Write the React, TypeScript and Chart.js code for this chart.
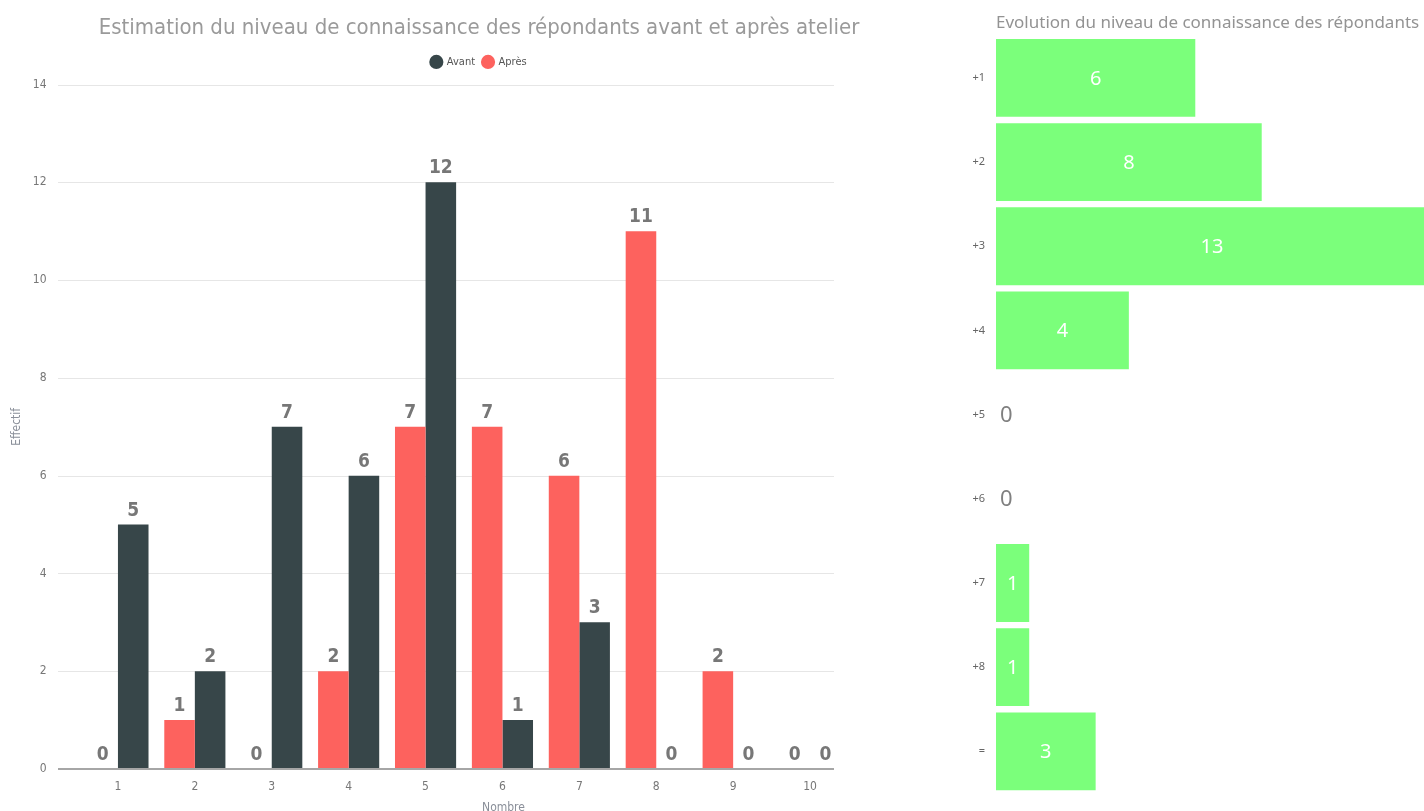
import React, { useEffect, useRef } from "react";
import { Chart, registerables } from "chart.js";

Chart.register(...registerables);

// ---- Left chart data ----
const niveaux = ["1", "2", "3", "4", "5", "6", "7", "8", "9", "10"];
const apres = [0, 1, 0, 2, 7, 7, 6, 11, 2, 0];
const avant = [5, 2, 7, 6, 12, 1, 3, 0, 0, 0];
const yMax = 14;
const yStep = 2;

// ---- Right chart data ----
const evolutionLabels = ["+1", "+2", "+3", "+4", "+5", "+6", "+7", "+8", "="];
const evolutionValues = [6, 8, 13, 4, 0, 0, 1, 1, 3];
const evolutionMax = 14;

const NARROW = "'DejaVu Sans Condensed', 'Liberation Sans Narrow', sans-serif";
const SANS = "'Noto Sans', 'Open Sans', sans-serif";

const leftGridPlugin = {
  id: "leftGrid",
  beforeDatasetsDraw(chart: any) {
    const { ctx, chartArea, scales } = chart;
    const y = scales.y;
    const x0 = chartArea.left - 21.5;
    const x1 = chartArea.right - 14.5;
    ctx.save();
    ctx.strokeStyle = "#e6e6e6";
    ctx.lineWidth = 1;
    y.ticks.forEach((t: any) => {
      if (t.value === 0) return;
      const py = Math.round(y.getPixelForValue(t.value)) + 0.5;
      ctx.beginPath();
      ctx.moveTo(x0, py);
      ctx.lineTo(x1, py);
      ctx.stroke();
    });
    ctx.restore();
  },
  afterDatasetsDraw(chart: any) {
    const { ctx, chartArea, scales } = chart;
    const y = scales.y;
    const x0 = chartArea.left - 21.5;
    const x1 = chartArea.right - 14.5;
    ctx.save();
    ctx.strokeStyle = "#a6a6a6";
    ctx.lineWidth = 2;
    const py = y.getPixelForValue(0);
    ctx.beginPath();
    ctx.moveTo(x0, py);
    ctx.lineTo(x1, py);
    ctx.stroke();
    // data labels
    ctx.font = `bold 19px ${NARROW}`;
    ctx.fillStyle = "#777777";
    ctx.textAlign = "center";
    ctx.textBaseline = "alphabetic";
    chart.data.datasets.forEach((ds: any, di: number) => {
      const meta = chart.getDatasetMeta(di);
      meta.data.forEach((el: any, i: number) => {
        ctx.fillText(String(ds.data[i]), el.x, el.y - 9);
      });
    });
    // x axis title
    ctx.font = `12px ${NARROW}`;
    ctx.fillStyle = "#8a8f99";
    ctx.textBaseline = "middle";
    ctx.fillText("Nombre", chartArea.left + 424, chartArea.bottom + 39);
    ctx.restore();
  },
};

const rightLabelPlugin = {
  id: "rightLabels",
  afterDatasetsDraw(chart: any) {
    const { ctx } = chart;
    const ds = chart.data.datasets[0];
    const meta = chart.getDatasetMeta(0);
    ctx.save();
    ctx.textBaseline = "middle";
    meta.data.forEach((el: any, i: number) => {
      const v = ds.data[i];
      if (v === 0) {
        ctx.font = `22px ${SANS}`;
        ctx.fillStyle = "#808080";
        ctx.textAlign = "left";
        ctx.fillText(String(v), el.base + 4, el.y + 1);
      } else {
        ctx.font = `20px ${SANS}`;
        ctx.fillStyle = "#ffffff";
        ctx.textAlign = "center";
        ctx.fillText(String(v), (el.x + el.base) / 2, el.y + 1);
      }
    });
    ctx.restore();
  },
};

export default function App() {
  const leftRef = useRef<HTMLCanvasElement>(null);
  const rightRef = useRef<HTMLCanvasElement>(null);

  useEffect(() => {
    const left = new Chart(leftRef.current as HTMLCanvasElement, {
      type: "bar",
      data: {
        labels: niveaux,
        datasets: [
          { label: "Après", data: apres, backgroundColor: "#FD625E", categoryPercentage: 0.795, barPercentage: 1 },
          { label: "Avant", data: avant, backgroundColor: "#374649", categoryPercentage: 0.795, barPercentage: 1 },
        ],
      },
      options: {
        responsive: false,
        animation: false,
        layout: { padding: 0 },
        plugins: {
          title: {
            display: true,
            text: "Estimation du niveau de connaissance des répondants avant et après atelier",
            color: "#9a9a9a",
            font: { family: NARROW, size: 22, weight: "normal" },
            padding: { top: 15, bottom: 7 },
          },
          subtitle: {
            display: true,
            text: "",
            position: "top",
            weight: 500,
            font: { size: 1 },
            padding: { top: 6, bottom: 0 },
          } as any,
          legend: {
            display: true,
            reverse: true,
            labels: {
              usePointStyle: true,
              pointStyle: "circle",
              boxWidth: 10,
              boxHeight: 10,
              padding: 8,
              color: "#555555",
              font: { family: NARROW, size: 11 },
            },
          },
          tooltip: { enabled: false },
        },
        scales: {
          x: {
            type: "category",
            offset: true,
            grid: { display: false, drawTicks: false },
            border: { display: false },
            ticks: { color: "#777777", font: { family: NARROW, size: 12 }, padding: 11 },
            afterFit: (s: any) => { s.height = 42; },
          },
          y: {
            min: 0,
            max: yMax,
            grid: { display: false, drawTicks: false },
            border: { display: false },
            ticks: { stepSize: yStep, color: "#777777", font: { family: NARROW, size: 12 }, padding: 33 },
            title: {
              display: true,
              text: "Effectif",
              color: "#8a8f99",
              font: { family: NARROW, size: 12 },
              padding: { top: 10, bottom: 0 },
            },
            afterFit: (s: any) => { s.width = 79.5; },
          },
          spacer: {
            type: "linear",
            position: "right",
            display: true,
            grid: { display: false, drawTicks: false },
            border: { display: false },
            ticks: { display: false },
            afterFit: (s: any) => { s.width = 109.5; },
          },
        },
      } as any,
      plugins: [leftGridPlugin],
    });

    const right = new Chart(rightRef.current as HTMLCanvasElement, {
      type: "bar",
      data: {
        labels: evolutionLabels,
        datasets: [
          {
            label: "Evolution",
            data: evolutionValues,
            backgroundColor: "#7BFF7B",
            categoryPercentage: 0.925,
            barPercentage: 1,
          },
        ],
      },
      options: {
        indexAxis: "y",
        responsive: false,
        animation: false,
        layout: { padding: { left: 0, right: 0, top: 35.8, bottom: 16 } },
        plugins: { legend: { display: false }, tooltip: { enabled: false } },
        scales: {
          x: { min: 0, max: evolutionMax, display: false },
          y: {
            grid: { display: false, drawTicks: false },
            border: { display: false },
            ticks: { color: "#666666", font: { family: SANS, size: 11 }, padding: 11 },
            afterFit: (s: any) => { s.width = 56; },
          },
        },
      } as any,
      plugins: [rightLabelPlugin],
    });

    return () => {
      left.destroy();
      right.destroy();
    };
  }, []);

  return (
    <div style={{ position: "fixed", left: 0, top: 0, width: 1424, height: 811, overflow: "hidden", background: "#ffffff" }}>
      <canvas ref={leftRef} width={958} height={811} style={{ position: "absolute", left: 0, top: 0, width: 958, height: 811 }} />
      <canvas ref={rightRef} width={521} height={811} style={{ position: "absolute", left: 940, top: 0, width: 521, height: 811 }} />
      <div
        style={{
          position: "absolute",
          left: 996,
          top: 10,
          fontFamily: SANS,
          fontSize: 17,
          lineHeight: "24px",
          color: "#939393",
          whiteSpace: "nowrap",
        }}
      >
        Evolution du niveau de connaissance des répondants
      </div>
    </div>
  );
}
